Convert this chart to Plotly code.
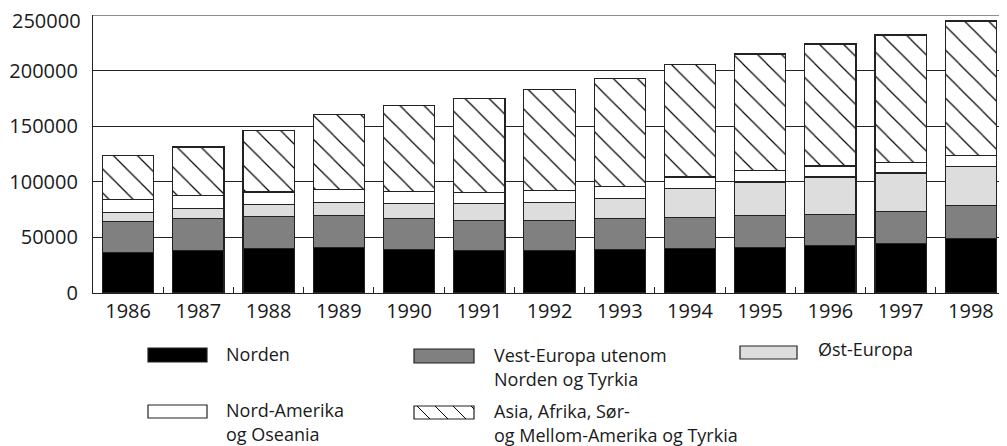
import plotly.graph_objects as go

years = ["1986", "1987", "1988", "1989", "1990", "1991", "1992",
         "1993", "1994", "1995", "1996", "1997", "1998"]

norden = [36400, 38500, 40300, 40900, 39000, 37900, 38500,
          39000, 39700, 41200, 42400, 44500, 48700]
vest_europa = [27900, 28200, 28500, 29100, 28000, 27600, 27000,
               27700, 27900, 28200, 28500, 29100, 29700]
ost_europa = [8400, 9000, 10500, 11700, 13800, 14700, 16200,
              18600, 26150, 30400, 33400, 34300, 35200]
nord_amerika = [11400, 11700, 11450, 11200, 10550, 10250, 10300,
                10600, 10550, 10200, 9900, 9600, 9900]
asia_afrika = [39400, 43900, 55250, 67300, 76950, 84150, 91000,
               97000, 100900, 104900, 109700, 114500, 121100]

y_ticks = [0, 50000, 100000, 150000, 200000]
y_top = 250000

series_names = ["Norden", "Vest-Europa utenom Norden og Tyrkia", "Øst-Europa",
                "Nord-Amerika og Oseania", "Asia, Afrika, Sør- og Mellom-Amerika og Tyrkia"]
legend_lines = [["Norden"],
                ["Vest-Europa utenom", "Norden og Tyrkia"],
                ["Øst-Europa"],
                ["Nord-Amerika", "og Oseania"],
                ["Asia, Afrika, Sør-", "og Mellom-Amerika og Tyrkia"]]
series = [norden, vest_europa, ost_europa, nord_amerika, asia_afrika]
colors = ["#000000", "#808080", "#dddddd", "#ffffff", "#ffffff"]

OFF = 8  # page body margin
W, H = 1007, 446
# desired plot area in window pixels: x 93..1006, y 15..293
ML = 93 - OFF
MT = 15 - OFF
MR = W - (1006 - OFF)
MB = H - (293 - OFF)
PW, PH = W - ML - MR, H - MT - MB
TXT = "#1a1a1a"
LINE = "#222222"
FONT = "Open Sans"

fig = go.Figure()
for i, (nm, vals, col) in enumerate(zip(series_names, series, colors)):
    kw = {}
    if i == 4:
        kw = dict(pattern=dict(shape="\\", size=17, solidity=0.07,
                               fgcolor="#000000", bgcolor="#ffffff", fillmode="replace"))
    fig.add_trace(go.Bar(
        x=years, y=vals, name=nm, showlegend=False,
        marker=dict(color=col, line=dict(color=LINE, width=1.2), **kw),
    ))


def px(x):
    return (x - OFF - ML) / PW


def py(y):
    return (H - MB - (y - OFF)) / PH


shapes = []
annotations = []

# top grid line at the end of the value range
shapes.append(dict(type="line", xref="paper", yref="y", x0=0, x1=1, y0=y_top, y1=y_top,
                   line=dict(color=LINE, width=1.2), layer="below"))
# its label sits slightly lower, as in the original
annotations.append(dict(xref="paper", yref="paper", x=px(93 - 11), y=py(20),
                        xanchor="right", yanchor="middle", showarrow=False,
                        text=str(y_top), borderpad=0,
                        font=dict(family=FONT, size=20, color=TXT)))

legend_items = [
    # swatch x0, x1, y0, y1, text x, text y (center of first line), index
    (148, 207, 348, 362, 225, 354, 0),
    (414, 474, 349, 363, 493, 355, 1),
    (740, 797, 346, 359, 817, 349, 2),
    (148, 207, 405, 418, 225, 410, 3),
    (414, 474, 406, 419, 493, 411, 4),
]
for x0, x1, y0, y1, tx, ty, idx in legend_items:
    shapes.append(dict(type="rect", xref="paper", yref="paper",
                       x0=px(x0), x1=px(x1), y0=py(y1), y1=py(y0),
                       fillcolor=colors[idx], line=dict(color=LINE, width=1.2)))
    if idx == 4:
        for k in range(4):
            sx = x0 + 3 + k * 18
            ex = min(sx + (y1 - y0), x1)
            ey = y0 + (ex - sx)
            shapes.append(dict(type="line", xref="paper", yref="paper",
                               x0=px(sx), y0=py(y0), x1=px(ex), y1=py(ey),
                               line=dict(color="#000000", width=1)))
    for j, line in enumerate(legend_lines[idx]):
        annotations.append(dict(xref="paper", yref="paper", x=px(tx), y=py(ty + 24 * j),
                                xanchor="left", yanchor="middle", align="left",
                                showarrow=False, text=line, borderpad=0,
                                font=dict(family=FONT, size=18, color=TXT)))

fig.update_layout(
    width=W, height=H,
    margin=dict(l=ML, r=MR, t=MT, b=MB, autoexpand=False),
    barmode="stack", bargap=0.27,
    plot_bgcolor="white", paper_bgcolor="white",
    font=dict(family=FONT, size=19, color=TXT),
    shapes=shapes, annotations=annotations,
    showlegend=False,
)
fig.update_xaxes(type="category", showline=True, linecolor=LINE, linewidth=1.2,
                 tickson="boundaries", ticks="inside", ticklen=6, tickcolor=LINE,
                 tickwidth=1.2, showgrid=False, ticklabelstandoff=0, automargin=False,
                 tickfont=dict(family=FONT, size=20, color=TXT))
fig.update_yaxes(range=[0, y_top], tickvals=y_ticks,
                 showline=True, linecolor=LINE, linewidth=1.2,
                 showgrid=True, gridcolor=LINE, gridwidth=1.2,
                 ticks="", ticklabelstandoff=10, zeroline=False, automargin=False,
                 tickformat="d",
                 tickfont=dict(family=FONT, size=20, color=TXT))

fig.write_html("out.html")
